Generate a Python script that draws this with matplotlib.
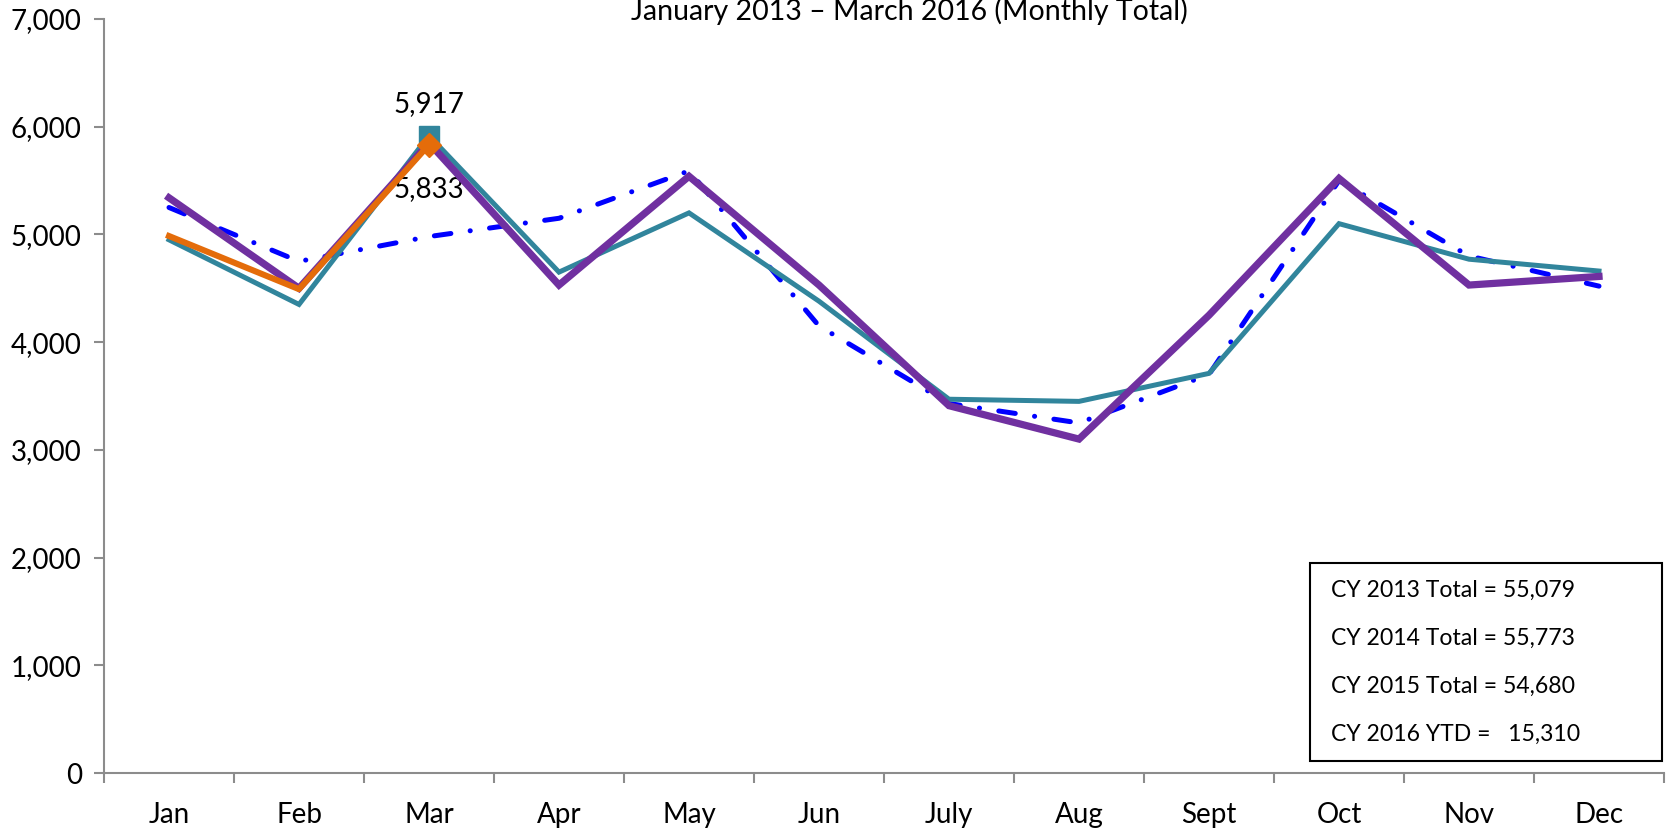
import matplotlib
matplotlib.use("Agg")
import matplotlib.pyplot as plt
from matplotlib.ticker import FuncFormatter, FixedLocator
import numpy as np

plt.rcParams['font.family'] = ['Lato', 'DejaVu Sans']
plt.rcParams['lines.scale_dashes'] = False

# chart data
months = ["Jan", "Feb", "Mar", "Apr", "May", "Jun", "July", "Aug", "Sept", "Oct", "Nov", "Dec"]
cy2013 = [5250, 4750, 4980, 5150, 5590, 4150, 3430, 3250, 3700, 5500, 4800, 4520]
cy2014 = [5340, 4500, 5850, 4530, 5540, 4530, 3410, 3100, 4250, 5520, 4530, 4610]
cy2015 = [4950, 4350, 5917, 4650, 5200, 4380, 3470, 3450, 3710, 5100, 4770, 4660]
cy2016 = [4985, 4492, 5833]
totals_text = ["CY 2013 Total = 55,079", "CY 2014 Total = 55,773",
               "CY 2015 Total = 54,680", "CY 2016 YTD =   15,310"]
title = "January 2013 \u2013 March 2016 (Monthly Total)"

W, H = 1667, 832
fig = plt.figure(figsize=(W / 100, H / 100), dpi=100)
ax = fig.add_axes([104 / W, 1 - 773 / H, (1664 - 104) / W, (773 - 19) / H])

x = np.arange(len(months))
grey = "#8c8c8c"

ax.plot(x, cy2013, color="#0000ff", lw=3.6, ls=(0, (12, 14, 0.1, 14)),
        dash_capstyle="round", zorder=2)
ax.plot(x, cy2015, color="#31859c", lw=3.6, zorder=3, solid_joinstyle="miter")
ax.plot(x, cy2014, color="#7030a0", lw=5.2, zorder=4, solid_joinstyle="miter")
ax.plot(x[2], cy2015[2], marker="s", ms=14, color="#31859c", zorder=5)
ax.plot(x[:len(cy2016)], cy2016, color="#e46c0a", lw=4.4, zorder=6)
ax.plot(x[2], cy2016[2], marker="D", ms=12, color="#e46c0a", zorder=7)

ax.annotate(f"{cy2015[2]:,}", (x[2], cy2015[2]), xytext=(0, 23), textcoords="offset points",
            ha="center", va="center", fontsize=20)
ax.annotate(f"{cy2016[2]:,}", (x[2], cy2016[2]), xytext=(0, -32), textcoords="offset points",
            ha="center", va="center", fontsize=20)

ax.set_xlim(-0.5, len(months) - 0.5)
ax.set_ylim(0, 7000)
ax.set_yticks(np.arange(0, 7001, 1000))
ax.yaxis.set_major_formatter(FuncFormatter(lambda v, p: f"{int(v):,}"))
ax.xaxis.set_major_locator(FixedLocator(np.arange(-0.5, len(months), 1)))
ax.xaxis.set_minor_locator(FixedLocator(x))
ax.set_xticklabels([], minor=False)
ax.set_xticklabels(months, minor=True)

for s in ["top", "right"]:
    ax.spines[s].set_visible(False)
for s in ["left", "bottom"]:
    ax.spines[s].set_color(grey)
    ax.spines[s].set_linewidth(1.5)
ax.tick_params(axis="both", which="major", direction="out", length=7, width=1.5, color=grey,
               labelsize=20)
ax.tick_params(axis="y", pad=9)
ax.tick_params(axis="x", which="minor", length=0, pad=21, labelsize=20)

fig.text(909 / W, 1 - 11 / H, title, ha="center", va="center", fontsize=20.5)

# totals box
box = plt.Rectangle((1310 / W, 1 - 761 / H), (1662 - 1310) / W, (761 - 563) / H,
                    transform=fig.transFigure, fill=True, facecolor="white",
                    edgecolor="black", lw=1.5, zorder=10)
fig.add_artist(box)
for i, t in enumerate(totals_text):
    fig.text(1331 / W, 1 - (590 + i * 48) / H, t, ha="left", va="center", fontsize=16.6, zorder=11)

fig.savefig("out.png", dpi=100)
